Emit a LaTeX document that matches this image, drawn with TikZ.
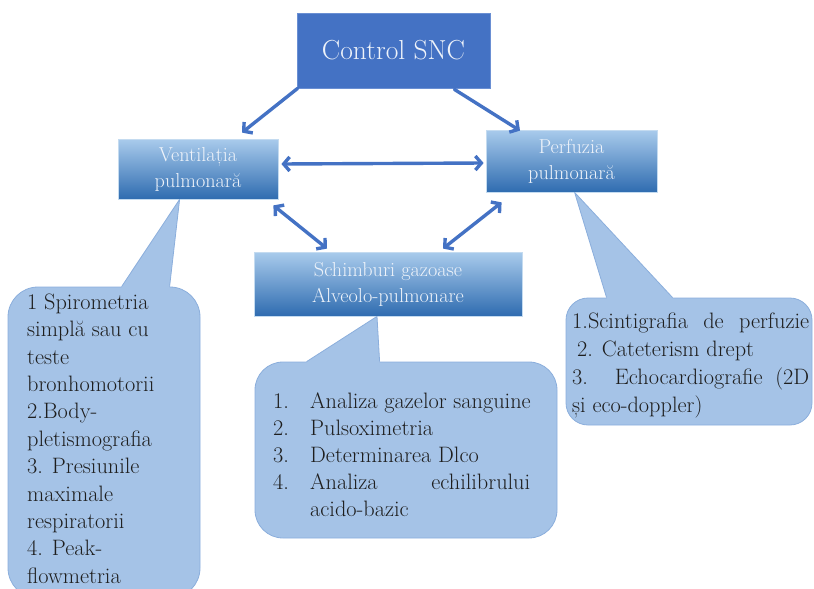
\documentclass[tikz,border=0pt]{standalone}
\usepackage{fontspec}
\usetikzlibrary{arrows.meta,calc}

\definecolor{sncblue}{HTML}{4472C4}
\definecolor{sncedge}{HTML}{6A8FD3}
\definecolor{gradtop}{HTML}{A9CBEC}
\definecolor{gradmid}{HTML}{6FA5DA}
\definecolor{gradbot}{HTML}{2F6CB0}
\definecolor{boxedge}{HTML}{C4DBF0}
\definecolor{labeltxt}{HTML}{EEF3FA}
\definecolor{callfill}{HTML}{A5C3E7}
\definecolor{calledge}{HTML}{8BAEDC}
\definecolor{calltxt}{HTML}{1E1E1E}
\definecolor{arrowblue}{HTML}{4472C4}

\begin{document}
\begin{tikzpicture}[x=1pt,y=-1pt,
  topbox/.style={fill=sncblue, draw=sncedge, line width=0.8pt, inner sep=0pt,
    text=labeltxt, font=\fontsize{27.5}{32}\selectfont},
  gradbox/.style={top color=gradtop, middle color=gradmid, bottom color=gradbot,
    draw=boxedge, line width=0.8pt, inner sep=0pt, align=center,
    text=labeltxt, font=\fontsize{20.2}{26}\selectfont},
  callbox/.style={fill=callfill, draw=calledge, line width=0.8pt, inner sep=0pt},
  callline/.style={draw=calledge, line width=0.8pt, line join=round},
  calltext/.style={anchor=north west, inner sep=0pt, align=left, text=calltxt},
  link/.style={draw=arrowblue, line width=3.4pt, line cap=round,
    -{Straight Barb[length=6pt,width=14pt]}},
  dlink/.style={link, {Straight Barb[length=6pt,width=14pt]}-{Straight Barb[length=6pt,width=14pt]}}
]
\useasboundingbox (0,0) rectangle (814,589);
\clip (0,0) rectangle (814,589);

% main boxes
\node[topbox, minimum width=193pt, minimum height=75pt] (ctrl) at (393.5,50.5) {Control SNC};
\node[gradbox, minimum width=160pt, minimum height=60pt] (vent) at (198,169) {Ventilația\\pulmonară};
\node[gradbox, minimum width=171pt, minimum height=62pt] (perf) at (571.5,161) {Perfuzia\\pulmonară};
\node[gradbox, minimum width=268pt, minimum height=64pt] (schimb) at (388,284) {Schimburi gazoase\\Alveolo-pulmonare};

% callout bodies
\node[callbox, rounded corners=30pt, minimum width=192pt, minimum height=311pt] (lbox) at (104,442.5) {};
\node[callbox, rounded corners=28pt, minimum width=302pt, minimum height=176pt] (mbox) at (406,450) {};
\node[callbox, rounded corners=22pt, minimum width=246pt, minimum height=127pt] (rbox) at (689,361.5) {};

% callout pointers
\coordinate (ltip) at ([xshift=62pt]vent.south west);
\coordinate (lb1) at ([xshift=114pt]lbox.north west);
\coordinate (lb2) at ([xshift=162pt]lbox.north west);
\coordinate (mtip) at ([xshift=-11pt]schimb.south);
\coordinate (mb1) at ([xshift=52pt]mbox.north west);
\coordinate (mb2) at ([xshift=125pt]mbox.north west);
\coordinate (rtip) at ([xshift=89pt]perf.south west);
\coordinate (rb1) at ([xshift=41pt]rbox.north west);
\coordinate (rb2) at ([xshift=107pt]rbox.north west);

\foreach \t/\a/\b in {ltip/lb1/lb2, mtip/mb1/mb2, rtip/rb1/rb2}{
  \fill[callfill] (\t) -- (\a) -- ([yshift=-2pt]\a) -- ([yshift=-2pt]\b) -- (\b) -- cycle;
  \draw[callline] (\a) -- (\t) -- (\b);
}

% callout texts
\node[calltext, font=\fontsize{22.3}{27.4}\selectfont] (ltext) at (27,293.5)
  {1 Spirometria\\simplă sau cu\\teste\\bronhomotorii\\2.Body-\\pletismografia\\3. Presiunile\\maximale\\respiratorii\\4. Peak-\\flowmetria};
\node[calltext, font=\fontsize{22.3}{27}\selectfont] (mtext) at (273,393)
  {\makebox[37pt][l]{1.}Analiza gazelor sanguine\\
   \makebox[37pt][l]{2.}Pulsoximetria\\
   \makebox[37pt][l]{3.}Determinarea Dlco\\
   \makebox[37pt][l]{4.}\makebox[220pt][s]{Analiza echilibrului}\\
   \hspace*{37pt}acido-bazic};
\node[calltext, font=\fontsize{22.3}{28}\selectfont] (rtext) at (572,313)
  {\makebox[237pt][s]{1.Scintigrafia de perfuzie}\\
   \hspace*{5pt}2. Cateterism drept\\
   \makebox[237pt][s]{3. Echocardiografie (2D}\\
   și eco-doppler)};

% connectors
\draw[link] ([xshift=1pt]ctrl.south west) -- ([xshift=44pt,yshift=6pt]vent.north);
\draw[link] ([xshift=-36pt,yshift=-1pt]ctrl.south east) -- ([xshift=-51.5pt,yshift=-1pt]perf.north);
\draw[dlink] ([xshift=3pt,yshift=5pt]vent.east) -- ([xshift=-2pt,yshift=-2pt]perf.west);
\draw[dlink] ([xshift=-5pt,yshift=-6pt]vent.south east) -- ([xshift=-61pt,yshift=3pt]schimb.north);
\draw[dlink] ([xshift=16pt,yshift=-10pt]perf.south west) -- ([xshift=55pt,yshift=3pt]schimb.north);
\end{tikzpicture}
\end{document}
